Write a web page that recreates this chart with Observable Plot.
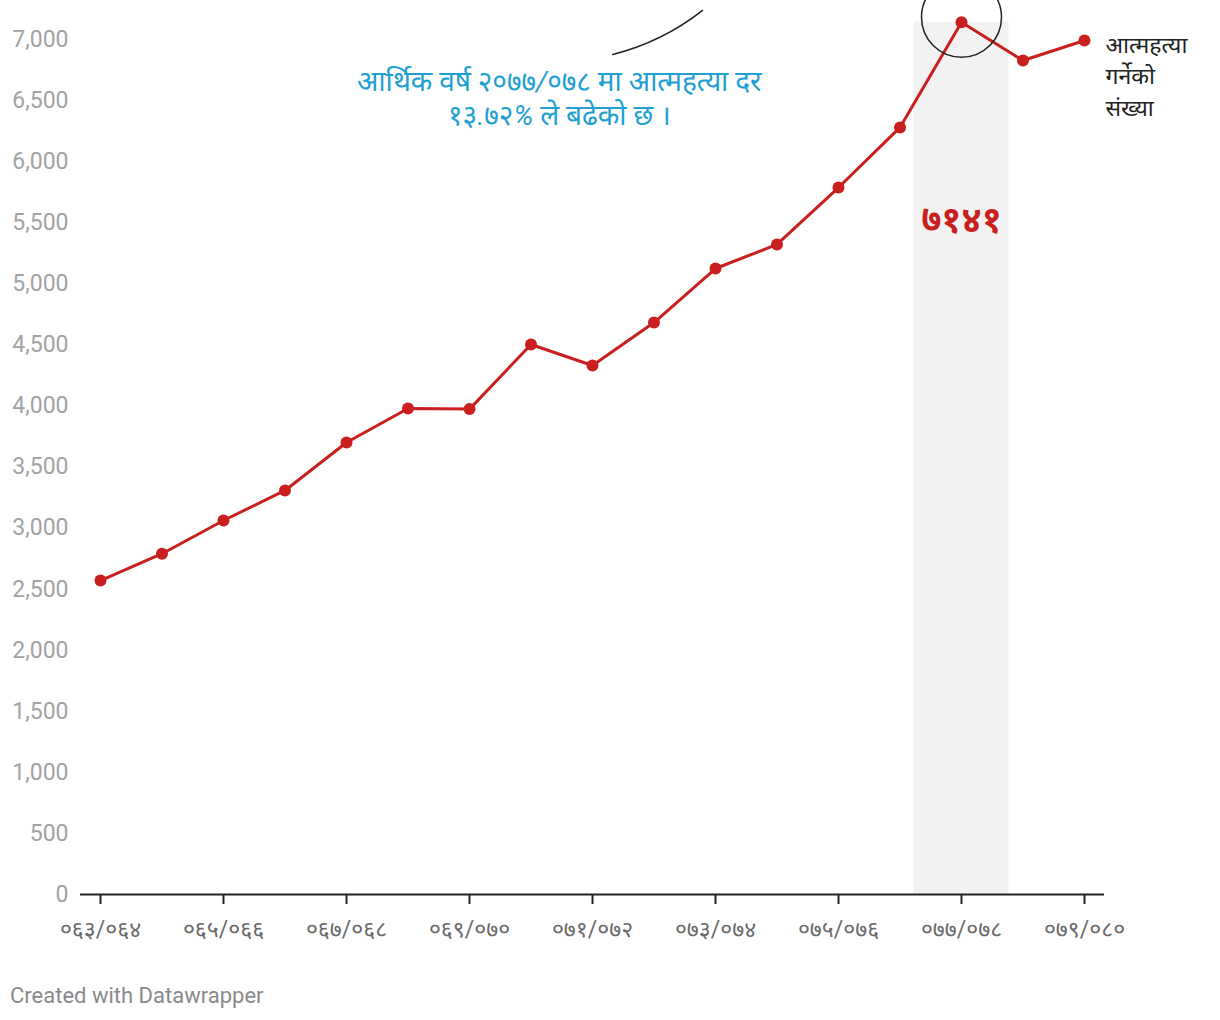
<!DOCTYPE html>
<html>
<head>
<meta charset="utf-8">
<script src="https://cdn.jsdelivr.net/npm/d3@7"></script>
<script src="https://cdn.jsdelivr.net/npm/@observablehq/plot@0.6"></script>
<style>
  body { margin: 0; background: #fff; font-family: Roboto, "Noto Sans", sans-serif; }
  #wrap { position: relative; width: 1220px; height: 1020px; }
  #footer { position: absolute; left: 10px; top: 983px; font-size: 22px; color: #8a8a8a; font-family: Roboto, sans-serif; }
  .note text { font-style: italic; }
</style>
</head>
<body>
<div id="wrap">
  <div id="chart"></div>
  <div id="footer">Created with Datawrapper</div>
</div>
<script>
const categories = [
  "०६३/०६४","०६४/०६५","०६५/०६६","०६६/०६७","०६७/०६८","०६८/०६९",
  "०६९/०७०","०७०/०७१","०७१/०७२","०७२/०७३","०७३/०७४","०७४/०७५",
  "०७५/०७६","०७६/०७७","०७७/०७८","०७८/०७९","०७९/०८०"
];
const suicides = [2570, 2790, 3062, 3308, 3701, 3979, 3974, 4503, 4331, 4683, 5125, 5322, 5788, 6280, 7141, 6828, 6992];
const xTickIndex = [0, 2, 4, 6, 8, 10, 12, 14, 16];
const yTicks = [0, 500, 1000, 1500, 2000, 2500, 3000, 3500, 4000, 4500, 5000, 5500, 6000, 6500, 7000];
const seriesLabel = "आत्महत्या\nगर्नेको\nसंख्या";
const highlightIndex = 14;
const highlightLabel = "७१४१";
const noteText = "आर्थिक वर्ष २०७७/०७८ मा आत्महत्या दर\n१३.७२% ले बढेको छ ।";
const notePos = [{x: 7.46, y: 6530}];
const connector = [{x1: 8.33, y1: 6877, x2: 9.79, y2: 7238}];

const data = categories.map((c, i) => ({i, cat: c, value: suicides[i]}));
const hl = [{x1: highlightIndex - 0.772, x2: highlightIndex + 0.772, y: suicides[highlightIndex], x: highlightIndex}];
const last = data[data.length - 1];
const red = "#c91f1f";

const chart = Plot.plot({
  width: 1220,
  height: 960,
  marginLeft: 100,
  marginRight: 136,
  marginTop: 39,
  marginBottom: 66,
  style: {fontFamily: "Roboto, 'Noto Sans', sans-serif", background: "#fff", overflow: "visible"},
  x: {type: "linear", domain: [0, 16]},
  y: {domain: [0, 7000]},
  marks: [
    Plot.rectY(hl, {x1: "x1", x2: "x2", y1: 0, y2: "y", fill: "#f2f2f2"}),
    Plot.axisY({ticks: yTicks, tickSize: 0, tickPadding: 32, tickFormat: d3.format(","), fill: "#a3a3a3", fontSize: 23, label: null}),
    Plot.axisX({ticks: xTickIndex, tickFormat: i => categories[i], tickSize: 10, tickPadding: 16, stroke: "#222", strokeWidth: 2, fill: "#6a6a6a", fontSize: 23, label: null, style: {letterSpacing: "1px"}}),
    Plot.ruleY([0], {stroke: "#222", strokeWidth: 2, insetLeft: -20, insetRight: -20}),
    Plot.line(data, {x: "i", y: "value", stroke: red, strokeWidth: 3}),
    Plot.dot(data, {x: "i", y: "value", r: 6, fill: red}),
    Plot.dot(hl, {x: "x", y: "y", r: 40, stroke: "#222", strokeWidth: 1.5, fill: "none", dy: -5}),
    Plot.text(hl, {x: "x", y: "y", text: () => highlightLabel, dy: 198, fill: red, fontSize: 36, fontWeight: "bold"}),
    Plot.text([last], {x: "i", y: "value", text: () => seriesLabel, textAnchor: "start", lineAnchor: "top", dx: 21, dy: -10, fontSize: 23, lineHeight: 1.37, fill: "#222"}),
    Plot.text(notePos, {x: "x", y: "y", text: () => noteText, fill: "#1ea0d2", fontSize: 28, fontStyle: "italic", lineHeight: 1.22, className: "note"}),
    Plot.arrow(connector, {x1: "x1", y1: "y1", x2: "x2", y2: "y2", bend: -12, headLength: 0, stroke: "#222", strokeWidth: 1.5})
  ]
});
document.getElementById("chart").append(chart);
</script>
</body>
</html>
